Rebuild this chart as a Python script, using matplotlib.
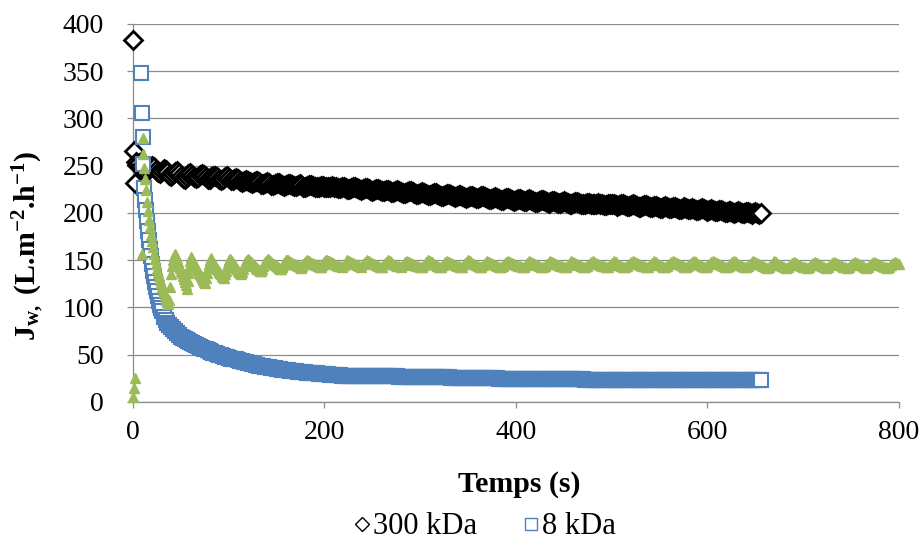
import numpy as np
import matplotlib
matplotlib.use("Agg")
import matplotlib.pyplot as plt
from matplotlib.lines import Line2D

plt.rcParams["font.family"] = ["Liberation Serif", "DejaVu Serif"]
plt.rcParams["mathtext.fontset"] = "custom"
plt.rcParams["mathtext.rm"] = "Liberation Serif"
plt.rcParams["mathtext.it"] = "Liberation Serif:italic"
plt.rcParams["mathtext.bf"] = "Liberation Serif:bold"

# --- data (Jw in L.m-2.h-1, time in s) ---
TAIL_STEP = 2  # long tails are logged every 2 s

# 300 kDa
BLACK_T_START = [0, 1, 2, 3]
BLACK_V_START = [383, 266, 232, 254]
BLACK_TAIL_T0 = 4
BLACK_TAIL = [
    251, 253, 250, 247, 244, 243, 245, 248, 250, 249,
    246, 243, 242, 244, 247, 246, 243, 240, 239, 241,
    243, 244, 242, 239, 237, 236, 238, 241, 242, 240,
    238, 237, 238, 240, 241, 240, 238, 236, 236, 238,
    239, 239, 238, 236, 235, 236, 238, 239, 237, 235,
    235, 236, 237, 236, 234, 233, 234, 235, 234, 233,
    232, 233, 234, 234, 233, 231, 231, 232, 233, 232,
    230, 230, 231, 232, 232, 231, 230, 229, 230, 231,
    231, 230, 229, 229, 230, 231, 230, 228, 228, 229,
    230, 230, 229, 228, 227, 228, 229, 229, 228, 227,
    227, 228, 229, 228, 227, 226, 226, 227, 227, 226,
    225, 225, 226, 227, 227, 226, 225, 224, 225, 226,
    226, 225, 224, 223, 224, 225, 225, 224, 223, 223,
    224, 224, 223, 222, 222, 223, 224, 223, 222, 221,
    221, 222, 223, 223, 222, 221, 220, 220, 221, 222,
    221, 220, 219, 219, 220, 221, 221, 220, 219, 218,
    218, 219, 220, 220, 219, 218, 217, 218, 219, 219,
    218, 217, 216, 217, 218, 218, 217, 216, 216, 217,
    218, 218, 217, 216, 215, 215, 216, 217, 216, 215,
    214, 214, 215, 216, 216, 215, 214, 213, 214, 215,
    215, 214, 213, 213, 214, 215, 214, 213, 212, 212,
    213, 214, 214, 213, 212, 211, 212, 213, 213, 212,
    211, 211, 212, 213, 212, 211, 210, 210, 211, 212,
    212, 211, 210, 209, 210, 211, 211, 210, 209, 209,
    210, 211, 210, 209, 208, 208, 209, 210, 210, 209,
    208, 207, 208, 209, 209, 208, 207, 207, 208, 209,
    208, 207, 206, 206, 207, 208, 208, 207, 206, 206,
    207, 207, 206, 205, 205, 206, 207, 206, 205, 205,
    206, 206, 205, 204, 204, 205, 206, 205, 204, 204,
    205, 204, 203, 203, 204, 205, 204, 203, 202, 203,
    204, 203, 202, 202, 203, 203, 202, 201, 201, 202,
    202, 201, 200, 201, 202, 201, 200, 200, 201, 201,
    200, 199, 200, 201, 200, 199, 200,
]

# 8 kDa
BLUE_T_START = [8, 9, 10, 11, 12, 13, 14, 15, 16, 17, 18, 19, 20,
                21, 22, 23, 24, 25, 26, 27, 28, 29, 30]
BLUE_V_START = [348, 306, 280, 252, 226, 214, 203, 192, 181, 171, 162, 154, 146,
                139, 133, 127, 122, 117, 112, 107, 103, 99, 96]
BLUE_TAIL_T0 = 32
BLUE_TAIL = [
    90, 87, 84, 81, 79, 77, 75, 73, 71, 69,
    68, 67, 66, 65, 64, 62, 61, 60, 59, 58,
    57, 56, 56, 55, 54, 53, 52, 52, 51, 50, 50, 49, 48, 48, 47,
    46, 46, 45, 45, 44, 43, 43, 42, 42, 41, 41, 40, 40, 39, 39, 38, 38, 38, 37, 37,
    37, 36, 36, 36, 35, 35, 35, 34, 34, 34, 34, 33, 33, 33, 33, 32, 32, 32, 32, 32,
    31, 31, 31, 31,
    31, 31, 30, 30, 30, 30,
    30, 30, 29, 29, 29, 29, 29, 29, 28, 28, 28,
    28, 28, 28, 28, 28, 28, 28, 28, 28, 28, 27, 27, 27, 27, 27, 27, 27, 27, 27,
    27, 27, 27, 27, 27, 27, 27, 27, 26, 26, 26, 26, 26, 26, 26,
    26, 26, 26, 26, 26, 26, 26, 26, 26, 26, 26, 26, 26, 26, 26, 26, 26, 26, 26, 26,
    25, 25, 25, 25, 25, 25, 25,
    25, 25, 25, 25, 25, 25, 25, 25, 25, 25, 25, 25, 25, 25, 25, 25, 25, 25,
    24, 24, 24, 24, 24, 24, 24, 24, 24, 24, 24, 24, 24, 24, 24, 24, 24, 24, 24, 24,
    24, 24, 24, 24, 24, 24, 24, 24, 24, 24, 24, 24, 24, 24, 24, 24, 24, 24, 24, 24,
    24, 24, 24, 24, 24,
    23.5, 23.5, 23.5, 23.5, 23.5, 23.5, 23.5, 23.5, 23.5, 23.5, 23.5, 23.5, 23.5, 23.5, 23.5,
    23.5, 23.5, 23.5, 23.5, 23.5, 23.5, 23.5, 23.5, 23.5, 23.5, 23.5, 23.5, 23.5, 23.5, 23.5,
    23.5, 23.5, 23.5, 23.5, 23.5, 23.5, 23.5, 23.5, 23.5, 23.5, 23.5, 23.5, 23.5, 23.5, 23.5,
    23.5, 23.5, 23.5, 23.5, 23.5, 23.5, 23.5, 23.5, 23.5, 23.5, 23.5, 23.5, 23.5, 23.5, 23.5,
    23.5, 23.5, 23.5, 23.5, 23.5,
    23, 23, 23, 23, 23, 23, 23, 23, 23, 23, 23, 23, 23, 23,
    23, 23, 23, 23, 23, 23, 23, 23, 23, 23, 23, 23, 23, 23,
]

# third series (no legend entry)
GREEN_T_START = [0, 1, 2, 9, 10, 11, 12, 13, 14, 15, 16, 17, 18, 19, 20, 21, 22,
                 23, 24, 25, 26, 27, 28, 29, 30, 31, 32, 33, 34, 35, 36, 37]
GREEN_V_START = [5, 15, 25, 157, 279, 262, 248, 236, 224, 212, 202, 193, 185, 177,
                 170, 164, 157, 151, 146, 141, 137, 133, 129, 126, 122, 119, 116,
                 113, 110, 108, 106, 104]
GREEN_TEETH_T0 = 38  # pulsed part, every 1 s
GREEN_TEETH = [
    108, 122, 135, 144, 150, 155, 157,
    154, 151, 148, 145, 142, 139, 136, 133, 130, 127, 124, 120,
    128, 136, 143, 149, 153,
    151, 149, 147, 145, 143, 141, 139, 137, 135, 133, 131, 129, 127.5, 126,
    131, 137, 142, 146, 150, 152,
    150, 148.5, 147, 145.5, 144, 142.5, 141, 139.5, 138, 136.5, 135, 133.5, 132, 131,
    135, 139, 143, 147, 150, 151,
    150, 148.5, 147, 146, 144.5, 143, 142, 140.5, 139, 138, 136.5, 135,
    138, 141, 144, 147, 149, 150.5, 151,
    150, 149, 148, 147, 146, 145, 144, 143, 142, 141, 140.5, 140, 139, 138.5,
    141, 143.5, 146, 148, 149.5, 150.5, 151,
    150, 149, 148, 147.5, 146.5, 146, 145, 144.5, 143.5, 143, 142, 141.5, 141, 140.5,
    143, 145, 147, 148.5, 150, 150.5,
    150, 149, 148.5, 148, 147, 146.5, 146, 145.5, 145, 144.5, 144, 143.5, 143, 142.5, 142,
    144, 145.5, 147, 148.5, 149.5, 150,
    149.5, 149, 148, 147.5, 147, 146.5, 146, 145.5, 145, 144.5, 144, 143.5, 143, 143,
    144.5, 146, 147.5, 148.5, 149.5, 150, 150,
    149.5, 149, 148.5, 148, 147.5, 147,
]
GREEN_TAIL_T0 = 210
GREEN_TAIL = [
    146, 145, 144, 144, 143, 145, 148, 150,
    149, 148, 147, 146, 145, 144, 143, 146, 148, 150,
    149, 148, 147, 146, 145, 144, 143, 143, 146, 148, 150,
    149, 148, 146, 145, 144, 144, 143, 145, 148, 149,
    148, 147, 146, 145, 144, 144, 143, 143, 145, 148, 150,
    149, 148, 146, 145, 144, 143, 143, 145, 148, 149,
    148, 147, 146, 145, 144, 144, 143, 143, 146, 148, 150,
    149, 147, 146, 145, 144, 143, 143, 145, 147, 149,
    148, 147, 146, 145, 144, 143, 143, 144, 146, 148, 149,
    148, 147, 146, 145, 144, 144, 143, 143, 145, 147, 149,
    148, 147, 146, 145, 144, 143, 143, 144, 146, 148, 149,
    148, 147, 146, 145, 144, 144, 143, 143, 145, 147, 149,
    148, 147, 146, 145, 144, 143, 143, 144, 146, 148, 149,
    148, 147, 146, 145, 144, 144, 143, 143, 145, 147, 149,
    148, 146, 145, 144, 143, 143, 144, 146, 148, 149,
    148, 147, 146, 145, 144, 144, 143, 143, 145, 147, 149,
    148, 146, 145, 144, 143, 143, 144, 146, 148, 149,
    148, 147, 146, 145, 144, 143, 143, 144, 146, 148, 149,
    148, 146, 145, 144, 143, 143, 144, 146, 148, 149,
    148, 147, 146, 145, 144, 143, 143, 144, 146, 148, 149,
    148, 146, 145, 144, 143, 143, 144, 146, 148, 149,
    148, 147, 146, 145, 144, 143, 142, 143, 145, 147, 149,
    148, 146, 145, 144, 143, 142, 143, 145, 147, 148,
    147, 146, 145, 144, 143, 143, 142, 143, 145, 147, 148,
    147, 146, 145, 144, 143, 142, 143, 145, 147, 148,
    147, 146, 145, 144, 143, 143, 142, 143, 145, 147, 148,
    147, 146, 145, 144, 143, 142, 143, 145, 147, 148,
    147, 146, 145, 144, 143, 143, 142, 143, 145, 147, 148,
    147, 146,
]

LEGEND_LABELS = ["300 kDa", "8 kDa"]
X_TICKS = [0, 200, 400, 600, 800]
Y_TICKS = [0, 50, 100, 150, 200, 250, 300, 350, 400]

BLUE = "#4F81BD"
GREEN = "#9BBB59"
GRID = "#8C8C8C"


def stepped(t0, values, step):
    return t0 + step * np.arange(len(values))


t_black = np.concatenate([BLACK_T_START, stepped(BLACK_TAIL_T0, BLACK_TAIL, TAIL_STEP)])
v_black = np.concatenate([BLACK_V_START, BLACK_TAIL])
t_blue = np.concatenate([BLUE_T_START, stepped(BLUE_TAIL_T0, BLUE_TAIL, TAIL_STEP)])
v_blue = np.concatenate([BLUE_V_START, BLUE_TAIL])
t_green = np.concatenate([GREEN_T_START, stepped(GREEN_TEETH_T0, GREEN_TEETH, 1),
                          stepped(GREEN_TAIL_T0, GREEN_TAIL, TAIL_STEP)])
v_green = np.concatenate([GREEN_V_START, GREEN_TEETH, GREEN_TAIL])

fig = plt.figure(figsize=(9.24, 5.45), dpi=100)
ax = fig.add_axes([0.1439, 0.2624, 0.8290, 0.6936])

ax.plot(t_black, v_black, ls="none", marker="D", ms=9.6, mfc="white",
        mec="black", mew=2.0, clip_on=False, zorder=3)
ax.plot(t_blue, v_blue, ls="none", marker="s", ms=10.6, mfc="white",
        mec=BLUE, mew=1.5, clip_on=False, zorder=4)
ax.plot(t_green, v_green, ls="none", marker="^", ms=7.0, mfc=GREEN,
        mec=GREEN, mew=1.0, clip_on=False, zorder=5)

ax.set_xlim(0, 800)
ax.set_ylim(0, 400)
ax.set_xticks(X_TICKS)
ax.set_yticks(Y_TICKS)
ax.grid(axis="y", color=GRID, lw=0.9)
ax.set_axisbelow(True)
for side in ("top", "right"):
    ax.spines[side].set_visible(False)
for side in ("left", "bottom"):
    ax.spines[side].set_color(GRID)
    ax.spines[side].set_linewidth(0.9)
ax.tick_params(axis="both", direction="out", length=4, width=0.9, color=GRID,
               labelsize=20)
ax.tick_params(axis="y", pad=17)
ax.tick_params(axis="x", pad=9)

fig.text(519 / 924, 1 - 485 / 545, "Temps (s)", ha="center", va="center",
         fontsize=21.5, fontweight="bold")
fig.text(29 / 924, 1 - 246 / 545,
         r"J$_{\mathbf{w,}}$ (L.m$^{\mathbf{-2}}$.h$^{\mathbf{-1}}$)",
         rotation=90, ha="center", va="center", fontsize=21.5, fontweight="bold")

handles = [
    Line2D([], [], ls="none", marker="D", ms=7.5, mfc="white", mec="black", mew=1.0),
    Line2D([], [], ls="none", marker="s", ms=8.5, mfc="white", mec=BLUE, mew=1.0),
]
fig.legend(handles, LEGEND_LABELS, loc="center", bbox_to_anchor=(485 / 924, 1 - 527 / 545),
           ncol=2, frameon=False, fontsize=22, handlelength=0.5, handletextpad=0.12,
           columnspacing=1.5, borderaxespad=0, borderpad=0)

fig.savefig("out.png", dpi=100)
